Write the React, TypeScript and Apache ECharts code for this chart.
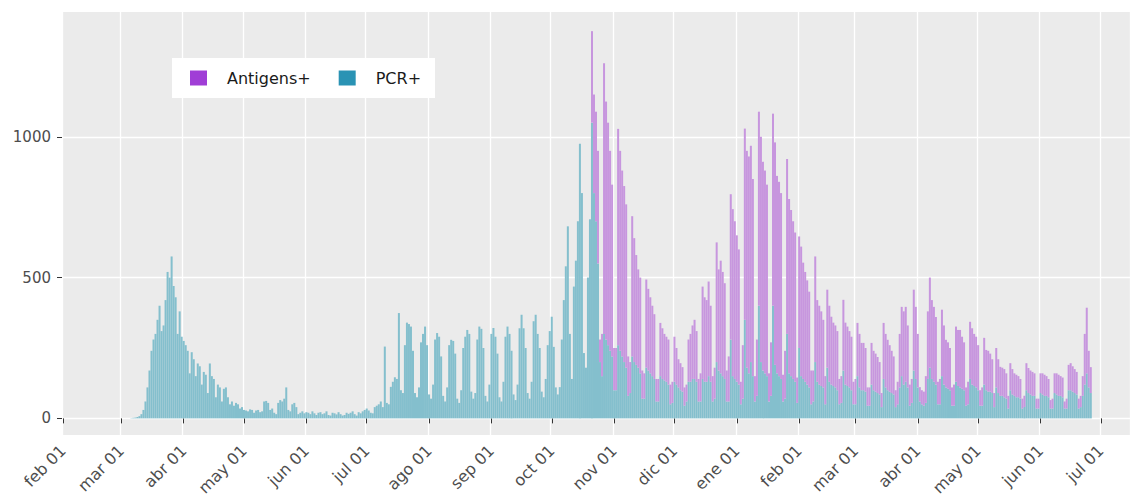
import React, { useEffect, useRef } from "react";
import * as echarts from "echarts";

// ---- axis range (one category per day) ----
const axisFirstDay = "2020-02-01";
const axisLastDay = "2021-07-15";
const monthNames = ["ene", "feb", "mar", "abr", "may", "jun", "jul", "ago", "sep", "oct", "nov", "dic"];
const yTicks = [0, 500, 1000];

// ---- daily positives, PCR, starting Monday 2020-03-02 (one row per week) ----
const pcrStart = "2020-03-02";
const pcr = [
  0, 0, 0, 0, 1, 2, 3,
  5, 8, 15, 30, 60, 110, 170,
  240, 280, 300, 350, 400, 310, 330,
  420, 520, 500, 575, 470, 430, 300,
  380, 290, 275, 260, 240, 160, 235,
  210, 150, 195, 185, 120, 165, 155,
  90, 195, 150, 140, 75, 120, 110,
  60, 105, 110, 75, 50, 60, 45,
  55, 50, 35, 40, 30, 28, 25,
  32, 30, 20, 28, 30, 22, 25,
  60, 62, 55, 30, 35, 20, 15,
  55, 65, 60, 70, 110, 30, 25,
  50, 55, 40, 15, 20, 25, 18,
  22, 20, 15, 25, 18, 12, 20,
  22, 15, 18, 25, 12, 10, 20,
  18, 14, 22, 15, 10, 12, 20,
  16, 20, 25, 15, 10, 22, 18,
  25, 30, 35, 28, 20, 18, 40,
  45, 50, 60, 40, 255, 55, 50,
  112, 130, 146, 140, 374, 100, 90,
  260, 340, 335, 326, 240, 90, 75,
  110, 270, 300, 326, 260, 85, 70,
  120, 280, 303, 290, 220, 80, 60,
  110, 260, 279, 275, 230, 70, 55,
  100, 250, 290, 314, 300, 95, 70,
  90, 280, 326, 318, 250, 80, 60,
  120, 300, 321, 290, 230, 75, 60,
  130, 290, 326, 300, 240, 85, 65,
  120, 320, 368, 320, 250, 90, 70,
  130, 345, 368, 300, 250, 95, 75,
  140, 260, 310, 361, 254, 110, 85,
  111, 280, 420, 540, 682, 300, 140,
  468, 560, 700, 975, 800, 232, 180,
  500, 707, 1050, 800, 700, 550, 200,
  150, 300, 280, 260, 240, 220, 100,
  100, 260, 240, 220, 200, 180, 80,
  90, 220, 200, 190, 180, 160, 70,
  70, 180, 170, 160, 150, 140, 60,
  60, 150, 140, 135, 130, 120, 50,
  55, 130, 120, 110, 100, 95, 45,
  60, 130, 130, 140, 140, 130, 60,
  60, 140, 130, 130, 150, 130, 60,
  70, 200, 170, 160, 150, 140, 60,
  60, 280, 150, 140, 130, 120, 50,
  70, 350, 180, 160, 200, 150, 60,
  80, 400, 200, 170, 160, 150, 60,
  80, 400, 190, 160, 150, 140, 60,
  70, 300, 160, 150, 140, 130, 55,
  250, 150, 140, 130, 120, 110, 50,
  60, 200, 130, 120, 115, 110, 50,
  180, 130, 120, 115, 110, 100, 50,
  55, 170, 120, 115, 110, 100, 50,
  50, 150, 110, 100, 100, 95, 45,
  45, 120, 100, 95, 90, 85, 40,
  140, 110, 100, 95, 90, 85, 40,
  50, 110, 150, 120, 130, 110, 45,
  55, 170, 140, 110, 60, 50, 45,
  55, 140, 180, 140, 130, 120, 50,
  50, 150, 120, 110, 105, 100, 45,
  45, 130, 115, 110, 105, 100, 45,
  50, 140, 120, 115, 110, 100, 45,
  45, 120, 100, 95, 95, 90, 40,
  110, 90, 80, 80, 75, 70, 35,
  100, 85, 80, 75, 75, 70, 35,
  40, 100, 90, 85, 80, 80, 35,
  35, 90, 85, 80, 80, 75, 35,
  35, 90, 85, 80, 80, 75, 35,
  35, 100, 100, 95, 90, 85, 35,
  40, 80, 120, 160, 110, 90,
];

// ---- daily positives, antigen tests, starting Monday 2020-10-19 ----
const antigenStart = "2020-10-19";
const antigen = [
  0, 0, 325, 350, 389, 400, 80,
  150, 961, 845, 790, 710, 610, 150,
  150, 768, 710, 660, 625, 580, 140,
  110, 498, 440, 390, 349, 340, 100,
  90, 313, 290, 270, 250, 230, 80,
  80, 189, 180, 165, 160, 160, 70,
  75, 160, 130, 100, 96, 87, 65,
  60, 150, 170, 190, 210, 180, 80,
  100, 328, 300, 290, 336, 270, 90,
  110, 425, 359, 400, 370, 340, 110,
  160, 516, 593, 560, 520, 480, 80,
  190, 679, 770, 770, 768, 700, 90,
  200, 689, 800, 741, 720, 680, 100,
  190, 682, 790, 701, 690, 660, 95,
  170, 621, 619, 590, 560, 530, 90,
  396, 460, 413, 390, 370, 340, 120,
  110, 375, 290, 280, 265, 240, 100,
  277, 270, 241, 225, 220, 210, 90,
  95, 251, 220, 211, 200, 190, 80,
  90, 189, 190, 168, 168, 155, 65,
  65, 148, 140, 135, 128, 115, 50,
  199, 190, 179, 165, 150, 135, 60,
  80, 190, 246, 260, 266, 220, 75,
  85, 287, 256, 190, 51, 50, 50,
  95, 240, 320, 280, 266, 240, 80,
  90, 236, 210, 169, 165, 150, 65,
  75, 196, 199, 204, 185, 170, 65,
  80, 203, 200, 185, 180, 160, 55,
  65, 166, 143, 145, 135, 120, 50,
  140, 120, 103, 100, 100, 90, 45,
  96, 90, 80, 80, 75, 70, 35,
  40, 96, 89, 85, 85, 80, 35,
  35, 70, 75, 75, 70, 65, 30,
  35, 70, 75, 75, 70, 70, 25,
  35, 90, 96, 90, 85, 80, 35,
  40, 70, 180, 233, 130, 92,
];

const DAY = 86400000;
function parseDay(s: string) {
  const [y, m, d] = s.split("-").map(Number);
  return Date.UTC(y, m - 1, d);
}
function dayKey(ms: number) {
  const d = new Date(ms);
  return `${d.getUTCFullYear()}-${String(d.getUTCMonth() + 1).padStart(2, "0")}-${String(d.getUTCDate()).padStart(2, "0")}`;
}

const categories: string[] = [];
for (let t = parseDay(axisFirstDay); t <= parseDay(axisLastDay); t += DAY) categories.push(dayKey(t));

function align(values: number[], start: string) {
  const off = categories.indexOf(start);
  return categories.map((_, i) => {
    const v = values[i - off];
    return v === undefined ? "-" : v;
  });
}

const isMonthStart = (_i: number, value: string) => value.endsWith("-01");

export default function App() {
  const ref = useRef<HTMLDivElement>(null);
  useEffect(() => {
    if (!ref.current) return;
    const chart = echarts.init(ref.current, undefined, { renderer: "svg" });
    const font = "DejaVu Sans";
    chart.setOption({
      animation: false,
      backgroundColor: "#ffffff",
      textStyle: { fontFamily: font },
      grid: {
        left: 62,
        right: 2,
        top: 12,
        bottom: 68,
        show: true,
        backgroundColor: "#ebebeb",
        borderWidth: 0,
      },
      legend: {
        left: 172,
        top: 58,
        orient: "horizontal",
        backgroundColor: "#ffffff",
        padding: [12, 14, 12, 18],
        itemWidth: 17,
        itemHeight: 15,
        itemGap: 28,
        icon: "rect",
        selectedMode: false,
        textStyle: { fontSize: 16, color: "#1a1a1a", fontFamily: font, padding: [0, 0, 0, 15] },
        data: [
          { name: "Antigens+", itemStyle: { color: "#a03ed6" } },
          { name: "PCR+", itemStyle: { color: "#2a93b4" } },
        ],
      },
      xAxis: {
        type: "category",
        data: categories,
        boundaryGap: true,
        axisLine: { show: false },
        axisTick: {
          show: true,
          alignWithLabel: true,
          interval: isMonthStart,
          length: 5,
          lineStyle: { color: "#333333", width: 1 },
        },
        axisLabel: {
          interval: isMonthStart,
          rotate: 45,
          margin: 13,
          fontSize: 16,
          color: "#4d4d4d",
          fontFamily: font,
          formatter: (value: string) => `${monthNames[Number(value.split("-")[1]) - 1]} 01`,
        },
        splitLine: { show: true, interval: isMonthStart, lineStyle: { color: "#ffffff", width: 1.3 } },
      },
      yAxis: {
        type: "value",
        min: -59,
        max: 1443,
        axisLine: { show: false },
        axisTick: { show: true, length: 5, customValues: yTicks, lineStyle: { color: "#333333", width: 1 } },
        axisLabel: {
          customValues: yTicks,
          fontSize: 15,
          color: "#4d4d4d",
          margin: 11,
          fontFamily: font,
          formatter: (v: number) => String(v),
        },
        splitLine: { show: true, lineStyle: { color: "#ffffff", width: 1.3 } },
      },
      series: [
        {
          name: "PCR+",
          type: "bar",
          stack: "total",
          data: align(pcr, pcrStart),
          itemStyle: { color: "#84bfcd" },
          barCategoryGap: "0%",
          silent: true,
        },
        {
          name: "Antigens+",
          type: "bar",
          stack: "total",
          data: align(antigen, antigenStart),
          itemStyle: { color: "#c796de" },
          barCategoryGap: "0%",
          silent: true,
        },
      ],
    });
    return () => chart.dispose();
  }, []);
  return (
    <div
      ref={ref}
      style={{ position: "absolute", left: 0, top: 0, width: 1132, height: 503 }}
    />
  );
}
